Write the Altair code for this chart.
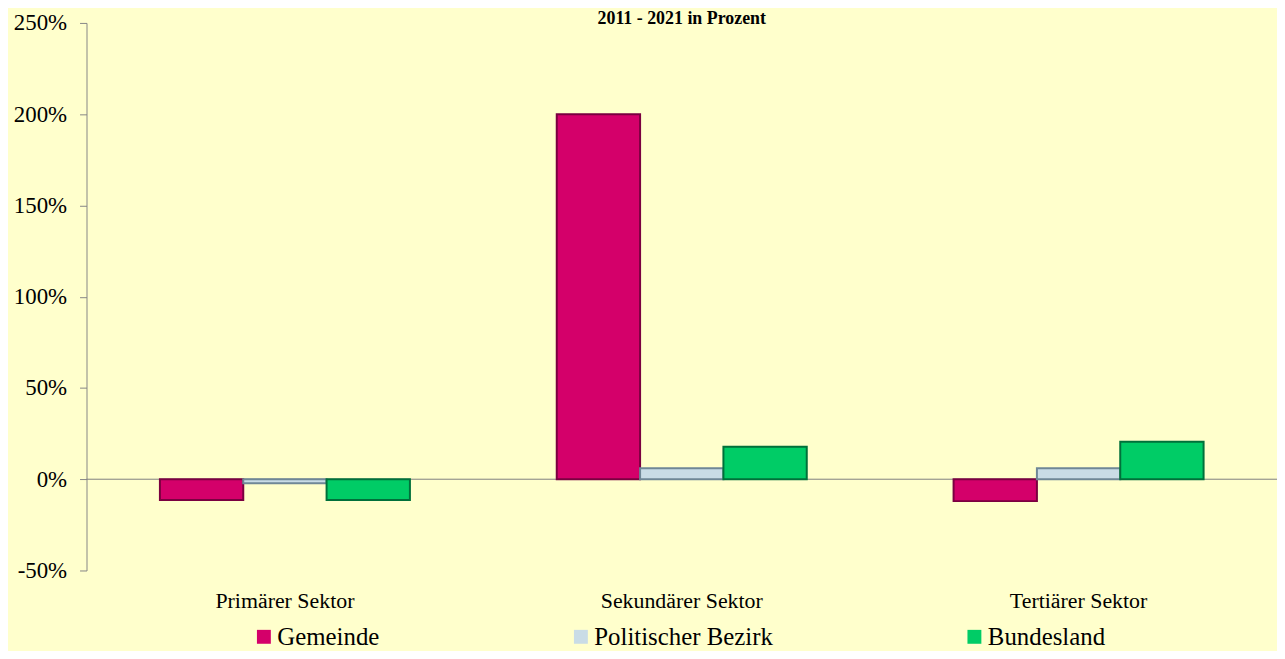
import altair as alt
import pandas as pd

sectors = ["Primärer Sektor", "Sekundärer Sektor", "Tertiärer Sektor"]
series = ["Gemeinde", "Politischer Bezirk", "Bundesland"]
gemeinde = [-0.114, 2.00, -0.12]
bezirk = [-0.022, 0.06, 0.06]
bundesland = [-0.114, 0.178, 0.205]
fill_colors = ["#D4006A", "#C9DCE6", "#00CC66"]
edge_colors = ["#7A0040", "#6F8796", "#00703A"]
y_ticks = [-0.5, 0, 0.5, 1.0, 1.5, 2.0, 2.5]

rows = []
for name, vals in zip(series, [gemeinde, bezirk, bundesland]):
    for s, v in zip(sectors, vals):
        rows.append({"Sektor": s, "Reihe": name, "Wert": v})
df = pd.DataFrame(rows)

FONT = "Liberation Serif, Times New Roman, serif"

x_enc = alt.X("Sektor:N", sort=sectors,
              scale=alt.Scale(paddingInner=0.37, paddingOuter=0.185),
              axis=alt.Axis(title=None, domain=False, ticks=False, labelAngle=0,
                            labelFont=FONT, labelFontSize=22, labelColor="#000000",
                            labelPadding=20))
y_scale = alt.Scale(domain=[-0.5, 2.5], nice=False, zero=False)

bars = alt.Chart(df).mark_bar(strokeWidth=2).encode(
    x=x_enc,
    xOffset=alt.XOffset("Reihe:N", sort=series, scale=alt.Scale(paddingInner=0, paddingOuter=0)),
    y=alt.Y("Wert:Q", scale=y_scale,
            axis=alt.Axis(title=None, values=y_ticks, grid=False,
                          labelExpr="round(datum.value * 100) + '%'",
                          domainColor="#868686", tickColor="#868686", tickSize=7,
                          labelFont=FONT, labelFontSize=23, labelColor="#000000",
                          labelPadding=13)),
    color=alt.Color("Reihe:N", sort=series,
                    scale=alt.Scale(domain=series, range=fill_colors),
                    legend=alt.Legend(title=None, orient="none", direction="horizontal",
                                      legendX=166, legendY=605,
                                      symbolType="square", symbolSize=196,
                                      symbolStrokeWidth=0, labelLimit=0,
                                      labelFont=FONT, labelFontSize=25, labelColor="#000000",
                                      gridAlign="each", columnPadding=190, labelOffset=1)),
    stroke=alt.Stroke("Reihe:N", sort=series,
                      scale=alt.Scale(domain=series, range=edge_colors), legend=None),
)

zero = alt.Chart(pd.DataFrame({"z": [0]})).mark_rule(color="#808080", strokeWidth=1).encode(
    y=alt.Y("z:Q", scale=y_scale)
)

chart = alt.layer(zero, bars).properties(
    width=1198, height=551,
    title=alt.TitleParams("2011 - 2021 in Prozent", font=FONT, fontSize=18,
                          fontWeight="bold", color="#000000", anchor="middle", offset=-16),
    background="#FFFFCC",
    padding={"left": 79, "top": 13, "right": 0, "bottom": 79},
    autosize=alt.AutoSizeParams(type="none"),
).configure_view(stroke=None)

chart.save("out.html", embed_options={"renderer": "svg", "actions": False})
